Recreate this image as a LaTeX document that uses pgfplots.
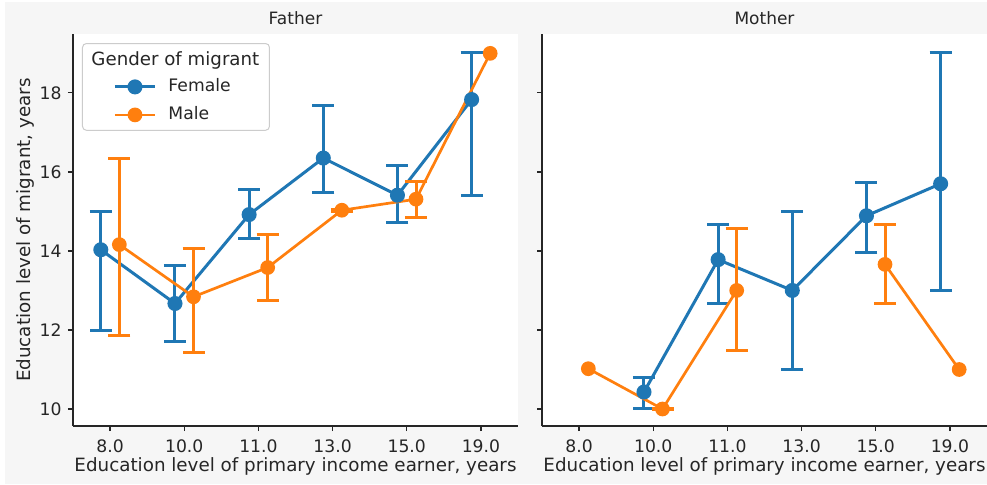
\documentclass[border=0pt]{standalone}
\usepackage{fontspec}
\setmainfont{DejaVu Sans}
\usepackage{pgfplots}
\usepackage{pgfplotstable}
\pgfplotsset{compat=1.18}
\definecolor{fblue}{HTML}{1F77B4}
\definecolor{forange}{HTML}{FF7F0E}
\definecolor{figbg}{HTML}{F6F6F6}
\definecolor{txt}{HTML}{262626}
\definecolor{lgframe}{HTML}{CCCCCC}

% Father, Female
\pgfplotstableread{
x y
-0.125 14.03
0.875 12.67
1.875 14.92
2.875 16.35
3.875 15.41
4.875 17.83
}\fFpts
\pgfplotstableread{
x y ep em
-0.125 14.03 0.98 2.04
0.875 12.67 0.97 0.97
1.875 14.92 0.64 0.61
2.875 16.35 1.34 0.88
3.875 15.41 0.74 0.70
4.875 17.83 1.18 2.42
}\fFerr
% Father, Male
\pgfplotstableread{
x y
0.125 14.16
1.125 12.84
2.125 13.58
3.125 15.03
4.125 15.31
5.125 19.00
}\fMpts
\pgfplotstableread{
x y ep em
0.125 14.16 2.18 2.30
1.125 12.84 1.22 1.40
2.125 13.58 0.84 0.83
3.125 15.03 0.02 0.02
4.125 15.31 0.45 0.47
}\fMerr
% Mother, Female
\pgfplotstableread{
x y
0.875 10.43
1.875 13.78
2.875 13.00
3.875 14.89
4.875 15.70
}\mFpts
\pgfplotstableread{
x y ep em
0.875 10.43 0.38 0.42
1.875 13.78 0.90 1.11
2.875 13.00 2.01 2.00
3.875 14.89 0.84 0.93
4.875 15.70 3.31 2.70
}\mFerr
% Mother, Male
\pgfplotstableread{
x y
0.125 11.02
1.125 10.00
2.125 13.00
3.125 nan
4.125 13.66
5.125 11.00
}\mMpts
\pgfplotstableread{
x y ep em
1.125 10.00 0.02 0.02
2.125 13.00 1.56 1.53
4.125 13.66 1.01 0.99
}\mMerr

\pgfplotsset{
  panel/.style={
    scale only axis, width=222.5pt, height=196pt,
    xmin=-0.5, xmax=5.5, ymin=9.57, ymax=19.49,
    axis x line*=bottom, axis y line*=left,
    axis line style={txt, line width=0.6pt, -},
    xtick={0,1,2,3,4,5},
    xticklabels={8.0,10.0,11.0,13.0,15.0,19.0},
    ytick={10,12,14,16,18},
    tick align=outside, major tick length=2.5pt,
    every tick/.style={txt, line width=0.6pt},
    ticklabel style={font=\fontsize{8.6}{10}\selectfont, text=txt},
    xticklabel style={inner sep=0pt, yshift=-4.4pt},
    yticklabel style={inner sep=0pt, xshift=-3pt},
    /pgf/number format/assume math mode=true,
    axis background/.style={fill=white},
    every axis title shift=0pt,
    title style={at={(axis description cs:0.5,1.023)}, anchor=base,
      font=\fontsize{8.5}{10}\selectfont, text=txt, inner sep=0pt},
    xlabel style={at={(axis description cs:0.5,-0.1161)}, anchor=base,
      font=\fontsize{9.15}{11}\selectfont, text=txt, inner sep=0pt},
    xlabel={Education level of primary income earner, years},
    unbounded coords=jump,
    clip=false,
  },
  fline/.style={fblue, line width=1.5pt, mark=*, mark size=3pt,
    mark options={fill=fblue, draw=none}},
  mline/.style={forange, line width=1.35pt, mark=*, mark size=3pt,
    mark options={fill=forange, draw=none}},
  ferr/.style={draw=none, mark=none, forget plot,
    error bars/.cd, y dir=both, y explicit,
    error bar style={draw=fblue, line width=1.5pt},
    error mark options={draw=fblue, line width=1.5pt, mark size=5.5pt, rotate=90}},
  merr/.style={draw=none, mark=none, forget plot,
    error bars/.cd, y dir=both, y explicit,
    error bar style={draw=forange, line width=1.5pt},
    error mark options={draw=forange, line width=1.5pt, mark size=5.5pt, rotate=90}},
}

\begin{document}
\begin{tikzpicture}[x=1pt,y=1pt]
\useasboundingbox (0,0) rectangle (493.5,242);
\fill[white] (0,0) rectangle (493.5,242);
\fill[figbg] (2.5,0) rectangle (493.5,241);

\begin{axis}[panel, at={(36.5pt,29pt)}, anchor=south west,
  title={Father},
  ylabel={Education level of migrant, years},
  ylabel style={at={(axis description cs:-0.0955,0.5)}, anchor=base,
    font=\fontsize{9.15}{11}\selectfont, text=txt, inner sep=0pt},
  legend cell align=left,
  legend image code/.code={%
    \draw[mark repeat=2,mark phase=2,#1] plot coordinates {(0pt,0pt) (10pt,0pt) (20pt,0pt)};},
  legend style={at={(0.0202,0.977)}, anchor=north west, draw=lgframe,
    line width=0.5pt, rounded corners=2pt, fill=white,
    font=\fontsize{8.6}{10}\selectfont, text=txt,
    inner xsep=15.5pt, inner ysep=3.6pt, row sep=5.8pt,
    nodes={inner sep=0pt, text height=6.3pt, text depth=1.9pt},
    /tikz/every odd column/.append style={column sep=6pt}},
]
\addplot[fline, forget plot] table[x=x,y=y] {\fFpts};
\addplot[ferr] table[x=x,y=y,y error plus=ep,y error minus=em] {\fFerr};
\addplot[mline, forget plot] table[x=x,y=y] {\fMpts};
\addplot[merr] table[x=x,y=y,y error plus=ep,y error minus=em] {\fMerr};
\addlegendimage{empty legend}
\addlegendentry{\makebox[35pt][l]{\hspace*{-38.5pt}\raisebox{-1pt}{\fontsize{9.1}{11}\selectfont Gender of migrant}}}
\addlegendimage{fline}
\addlegendentry{Female}
\addlegendimage{mline}
\addlegendentry{Male}
\end{axis}

\begin{axis}[panel, at={(271pt,29pt)}, anchor=south west,
  title={Mother}, yticklabels={}]
\addplot[fline] table[x=x,y=y] {\mFpts};
\addplot[ferr] table[x=x,y=y,y error plus=ep,y error minus=em] {\mFerr};
\addplot[mline] table[x=x,y=y] {\mMpts};
\addplot[merr] table[x=x,y=y,y error plus=ep,y error minus=em] {\mMerr};
\end{axis}
\end{tikzpicture}
\end{document}
